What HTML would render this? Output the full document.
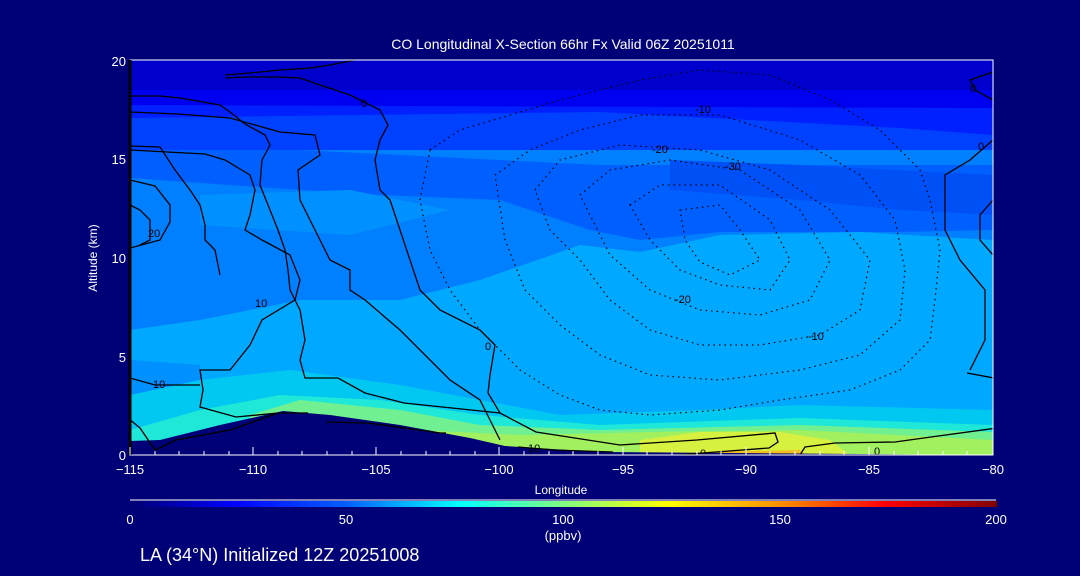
<!DOCTYPE html>
<html><head><meta charset="utf-8"><style>
body{margin:0;background:#000077;}
svg{display:block}
text{font-family:"Liberation Sans",sans-serif;}
</style></head><body>
<svg width="1080" height="576" viewBox="0 0 1080 576" xmlns="http://www.w3.org/2000/svg">
<defs>
<linearGradient id="cb" x1="0" x2="1" y1="0" y2="0">
<stop offset="0" stop-color="#000070"/>
<stop offset="0.12" stop-color="#0000ff"/>
<stop offset="0.25" stop-color="#0060ff"/>
<stop offset="0.38" stop-color="#00ffff"/>
<stop offset="0.5" stop-color="#80ff80"/>
<stop offset="0.62" stop-color="#ffff00"/>
<stop offset="0.75" stop-color="#ff9000"/>
<stop offset="0.87" stop-color="#ff0000"/>
<stop offset="1" stop-color="#800000"/>
</linearGradient>
<clipPath id="pc"><rect x="130" y="60" width="863" height="395"/></clipPath>
</defs>
<rect width="1080" height="576" fill="#000077"/>
<g clip-path="url(#pc)">
<rect x="130" y="60" width="863" height="395" fill="#0080ff"/>
<path d="M130 60 L993 60 L993 150 L130 150Z" fill="#0040ff"/>
<path d="M130 60 L993 60 L993 135 L900 128 L600 112 L130 118Z" fill="#0020ff"/>
<path d="M130 60 L993 60 L993 108 L130 105Z" fill="#0000f0"/>
<rect x="130" y="60" width="863" height="30" fill="#0000cc"/>
<path d="M130 150 L300 150 L600 165 L993 165 L993 230 L900 232 L720 232 L640 240 L590 230 L500 200 L380 195 L300 190 L130 178Z" fill="#0060ff"/>
<path d="M670 160 L800 165 L993 175 L993 215 L900 210 L800 200 L670 190Z" fill="#0050f8"/>
<path d="M200 195 L350 190 L450 210 L350 235 L200 225Z" fill="#0090ff"/>
<path d="M400 300 L480 280 L580 245 L640 252 L720 235 L860 232 L993 240 L993 455 L130 455 L130 330 L200 320 L300 300Z" fill="#00a8ff"/>
<path d="M130 360 L200 365 L205 412 L130 415Z" fill="#0090ff"/>
<path d="M130 395 L200 380 L290 370 L400 385 L480 400 L560 415 L700 410 L800 405 L993 410 L993 455 L130 455Z" fill="#00c8f0"/>
<path d="M130 430 L200 410 L280 395 L380 400 L480 415 L600 425 L800 418 L993 425 L993 455 L130 455Z" fill="#20e8d8"/>
<path d="M250 415 L300 400 L400 410 L480 425 L600 430 L800 425 L993 432 L993 455 L250 455Z" fill="#70f090"/>
<path d="M420 430 L520 435 L650 432 L800 430 L993 440 L993 455 L420 455Z" fill="#a0f060"/>
<path d="M640 440 L700 432 L780 432 L830 440 L850 455 L640 455Z" fill="#d8f040"/>
<path d="M700 452 L800 450 L805 455 L700 455Z" fill="#f0c020"/>
<path d="M130 455 L130 441 L160 440 L220 425 L283 411 L330 415 L400 425 L470 438 L505 446 L600 452 L993 455Z" fill="#000077"/>
<g fill="none" stroke="#000" stroke-width="1.3">
<path d="M130 96 L160 96 L180 98 L220 105 L230 112 L245 124 L265 135 L270 145 L262 160 L260 185 L270 210 L278 230 L285 250 L288 270 L290 290 L300 310 L305 340 L300 360 L305 378 L338 378 L365 393 L404 403 L500 413 L536 432 L620 445 L697 440 L775 433 L778 442 L769 448 L703 453 L667 456"/>
<path d="M130 146 L160 147 L175 170 L190 190 L200 205 L205 225 L205 240 L215 250 L220 275"/>
<path d="M130 180 L155 186 L170 205 L170 222 L160 240 L130 248"/>
<path d="M130 205 L140 210 L150 220 L150 240 L140 245"/>
<path d="M130 150 L205 154 L225 160 L250 175 L255 190 L250 215 L245 230 L262 240 L290 255 L300 280 L295 300 L262 320 L250 345 L230 370 L200 370 L203 390 L200 407 L236 417 L278 413 L308 413"/>
<path d="M130 378 L155 385 L200 385"/>
<path d="M130 112 L178 114 L230 118 L280 132 L315 135 L320 155 L298 170 L300 200 L315 230 L330 260 L350 270 L350 290 L365 300 L400 330 L450 380 L480 400 L490 420 L500 440"/>
<path d="M225 75 L250 73 L280 70 L310 68 L330 65 L355 60"/>
<path d="M225 78 L245 77 L280 77 L300 78 L320 85 L350 95 L360 100 L380 110 L388 125 L380 140 L375 160 L380 190 L390 200 L400 230 L410 260 L420 290 L440 310 L480 330 L495 345 L490 375 L488 393 L500 413"/>
<path d="M128 418 L140 428 L155 450 L176 440 L230 430 L278 413"/>
<path d="M326 422 L368 423 L440 433 L446 433"/>
<path d="M518 447 L554 450 L613 452"/>
<path d="M800 455 L805 447 L835 443 L895 442 L931 437 L997 428"/>
<path d="M967 373 L994 378"/>
<path d="M993 100 L975 90 L970 80 L993 72"/>
<path d="M993 140 L970 160 L945 175 L945 230 L960 260 L985 290 L985 340 L970 370"/>
<path d="M993 200 L980 215 L980 240 L993 255"/>
</g>
<g fill="none" stroke="#000" stroke-width="1.2" stroke-dasharray="1.5 4">
<path d="M430 150 L460 130 L510 115 L560 100 L640 80 L700 70 L770 75 L830 100 L880 130 L920 170 L930 200 L940 250 L935 300 L930 340 L900 370 L850 390 L780 400 L720 410 L650 415 L600 410 L560 395 L520 370 L480 330 L450 290 L430 250 L420 200 Z"/>
<path d="M495 175 L530 150 L580 130 L640 115 L720 115 L800 140 L860 175 L895 220 L905 270 L900 320 L860 355 L800 370 L720 380 L650 375 L600 355 L560 325 L525 290 L505 240 Z"/>
<path d="M535 190 L560 160 L620 145 L700 150 L770 170 L830 210 L870 260 L860 310 L820 335 L760 345 L700 345 L650 330 L610 300 L580 260 L550 230 Z"/>
<path d="M580 195 L610 170 L670 160 L740 170 L800 210 L830 260 L810 300 L760 315 L700 310 L650 290 L610 255 Z"/>
<path d="M630 205 L660 185 L720 185 L770 220 L790 260 L770 290 L720 285 L680 270 L650 240 Z"/>
<path d="M680 210 L720 205 L740 230 L760 260 L730 275 L700 262 L685 240 Z"/>
</g>
<g font-size="11" fill="#000">
<text x="361" y="107">0</text><text x="485" y="350">0</text><text x="970" y="92">0</text><text x="978" y="150">0</text>
<text x="700" y="457">0</text><text x="874" y="455">0</text>
<text x="148" y="237">20</text><text x="255" y="307">10</text><text x="153" y="388">10</text><text x="528" y="452">10</text>
<text x="695" y="113">-10</text><text x="652" y="153">-20</text><text x="725" y="170">-30</text><text x="675" y="303">-20</text><text x="808" y="340">-10</text>
</g>
</g>
<rect x="130" y="60" width="863" height="395" fill="none" stroke="#fff" stroke-width="1"/>
<line x1="130" y1="60" x2="130" y2="455" stroke="#000" stroke-width="3"/>
<g stroke="#fff" stroke-width="1">
<path d="M130 455 V447 M155 455 V451 M179 455 V451 M204 455 V451 M229 455 V451 M253 455 V447 M278 455 V451 M302 455 V451 M327 455 V451 M352 455 V451 M376 455 V447 M401 455 V451 M426 455 V451 M450 455 V451 M475 455 V451 M499 455 V447 M524 455 V451 M549 455 V451 M573 455 V451 M598 455 V451 M623 455 V447 M647 455 V451 M672 455 V451 M697 455 V451 M721 455 V451 M746 455 V447 M770 455 V451 M795 455 V451 M820 455 V451 M844 455 V451 M869 455 V447 M894 455 V451 M918 455 V451 M943 455 V451 M967 455 V451 M993 455 V447"/>
</g>
<g fill="#fff" font-size="13">
<text x="563" y="49" text-anchor="middle" font-size="14">CO Longitudinal X-Section 66hr  Fx Valid 06Z 20251011</text>
<g text-anchor="end"><text x="126" y="66">20</text><text x="126" y="164">15</text><text x="126" y="263">10</text><text x="126" y="362">5</text><text x="126" y="460">0</text></g>
<g text-anchor="middle"><text x="130" y="474">−115</text><text x="253" y="474">−110</text><text x="376" y="474">−105</text><text x="499" y="474">−100</text><text x="623" y="474">−95</text><text x="746" y="474">−90</text><text x="869" y="474">−85</text><text x="993" y="474">−80</text></g>
<text x="561" y="494" text-anchor="middle" font-size="12">Longitude</text>
<text x="97" y="258" text-anchor="middle" font-size="12" transform="rotate(-90 97 258)">Altitude (km)</text>
<g text-anchor="middle"><text x="130" y="524">0</text><text x="346" y="524">50</text><text x="563" y="524">100</text><text x="780" y="524">150</text><text x="996" y="524">200</text></g>
<text x="563" y="540" text-anchor="middle">(ppbv)</text>
<text x="140" y="561" font-size="18">LA (34°N) Initialized 12Z 20251008</text>
</g>
<line x1="130" y1="500" x2="996" y2="500" stroke="#fff"/>
<rect x="130" y="501" width="867" height="6" fill="url(#cb)"/>
</svg>
</body></html>
